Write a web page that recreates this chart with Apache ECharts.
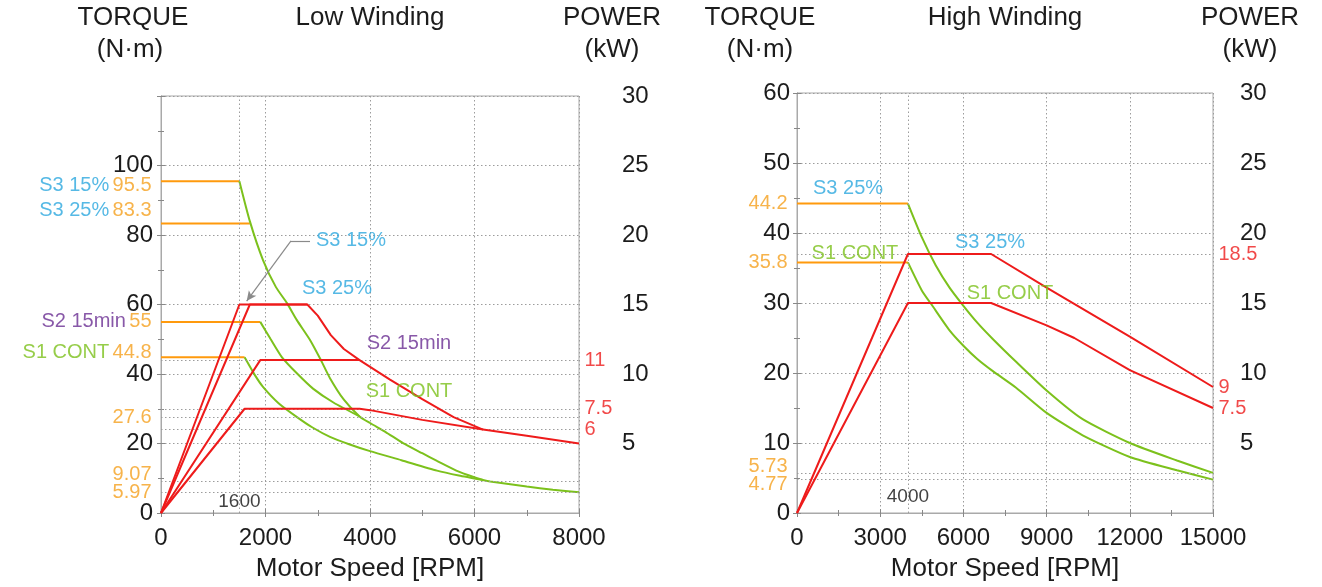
<!DOCTYPE html>
<html><head><meta charset="utf-8">
<script src="https://cdn.jsdelivr.net/npm/echarts@6/dist/echarts.min.js"></script>
<style>html,body{margin:0;padding:0;background:#fff}#c{width:1322px;height:587px}</style>
</head><body><div id="c"></div>
<script>
// ================= DATA =================
// ---- Low Winding (x: rpm, torque: N·m, power: kW) ----
const lowXTicks = [0, 2000, 4000, 6000, 8000];
const lowTorqueTicks = [0, 20, 40, 60, 80, 100];
const lowPowerTicks = [5, 10, 15, 20, 25, 30];
const lowBaseSpeed = 1500;
const lowBaseSpeedText = '1600';

const lowS3_15_flat = [[0, 95.5], [1500, 95.5]];
const lowS3_25_flat = [[0, 83.3], [1700, 83.3]];
const lowS2_flat = [[0, 55], [1900, 55]];
const lowS1_flat = [[0, 44.8], [1600, 44.8]];

const lowS3_torque = [[1500, 95.5], [1700, 84], [1952, 72.8], [2200, 65], [2411, 60.4], [2600, 55.5], [2852, 49.8], [3050, 44.3], [3234, 38.8], [3500, 32.6], [3800, 27.8], [4000, 25.9], [4300, 23.3], [4632, 20.1], [5000, 17.2], [5282, 15], [5700, 11.9], [6163, 9.5], [6300, 9.07], [7000, 7.6], [7500, 6.7], [8000, 5.97]];
const lowS2_torque = [[1900, 55], [2100, 50], [2316, 44.8], [2600, 40.2], [2909, 35.8], [3300, 31.8], [3800, 27.8]];
const lowS1_torque = [[1600, 44.8], [1800, 39.6], [1952, 36.3], [2250, 31.6], [2603, 27.6], [2900, 24.6], [3234, 21.9], [3600, 19.8], [4000, 17.8], [4600, 15.2], [5282, 12.2], [5700, 10.8], [6163, 9.5]];

const lowS3_15_power = [[0, 0], [1500, 15], [2800, 15], [3000, 14.2], [3250, 12.8], [3500, 11.8], [3800, 11]];
const lowS3_25_power = [[0, 0], [1700, 15], [2800, 15]];
const lowS2_power = [[0, 0], [1900, 11], [3800, 11], [4383, 9.6], [5000, 8.2], [5600, 6.9], [6163, 6.0], [7000, 5.55], [8000, 5.0]];
const lowS1_power = [[0, 0], [1600, 7.5], [3800, 7.5], [4000, 7.4], [5000, 6.7], [6163, 6.0]];

const lowTorqueRefs = [27.6, 9.07, 5.97];
const lowPowerRefs = [11, 7.5, 6];
const lowLeftTags = [['S3 15%', 95.5], ['S3 25%', 83.3], ['S2 15min', 55], ['S1 CONT', 44.8], ['', 27.6], ['', 9.07], ['', 5.97]];
const lowInnerTags = [['S3 15%', 3636, 78.3], ['S3 25%', 3368, 64.7], ['S2 15min', 4746, 48.9], ['S1 CONT', 4746, 35.1]];
const lowPowerTags = [11, 7.5, 6];
const lowArrow = [[2852, 78.3], [2488, 78.3], [1640, 61]];

// ---- High Winding ----
const highXTicks = [0, 3000, 6000, 9000, 12000, 15000];
const highTorqueTicks = [0, 10, 20, 30, 40, 50, 60];
const highPowerTicks = [5, 10, 15, 20, 25, 30];
const highBaseSpeed = 4000;
const highBaseSpeedText = '4000';

const highS3_flat = [[0, 44.2], [4000, 44.2]];
const highS1_flat = [[0, 35.8], [4000, 35.8]];
const highS3_torque = [[4000, 44.2], [4500, 39.4], [5000, 35.4], [5500, 32.2], [6000, 29.6], [6500, 27.2], [7050, 24.9], [7900, 21.6], [9000, 17.5], [10300, 13.4], [12000, 10.0], [13700, 7.5], [15000, 5.73]];
const highS1_torque = [[4000, 35.8], [4500, 31.8], [4900, 29.5], [5500, 26.1], [6000, 23.9], [6500, 22.0], [7050, 20.3], [7900, 17.9], [9000, 14.3], [10300, 11.1], [12000, 8.0], [13700, 6.1], [15000, 4.77]];
const highS3_power = [[0, 0], [4000, 18.5], [7000, 18.5], [9000, 16.1], [12000, 12.6], [15000, 9]];
const highS1_power = [[0, 0], [4000, 15], [7000, 15], [9000, 13.4], [10000, 12.5], [12000, 10.2], [15000, 7.5]];

const highTorqueRefs = [5.73, 4.77];
const highPowerRefs = [18.5];
const highLeftTags = [['', 44.2], ['', 35.8], ['', 5.73], ['', 4.77]];
const highInnerTags = [['S3 25%', 1840, 46.3], ['S1 CONT', 2090, 37.1], ['S3 25%', 6960, 38.6], ['S1 CONT', 7680, 31.3]];
const highPowerTags = [18.5, 9, 7.5];

// ================= STYLE =================
const FONT = "'Liberation Sans', Arial, Helvetica, sans-serif";
const C = {
  orange: '#ff9a0d', orangeText: '#f5a01e', green: '#7cc11c', red: '#ee1b1b',
  blue: '#2ca7df', purple: '#6a2e92', grid: '#9c9c9c', frame: '#a9a9a9', text: '#1c1c1c'
};
const modeColor = { 'S3 15%': C.blue, 'S3 25%': C.blue, 'S2 15min': C.purple, 'S1 CONT': C.green };
const modeClass = { 'S3 15%': 'nb', 'S3 25%': 'nb', 'S2 15min': 'np', 'S1 CONT': 'ng' };
const tagNudge = { '95.5': 4, '83.3': -13, '44.8': -5, '9.07': -7, '5.73': -6, '4.77': 5 };
const TAG = 20;
const AX = 24;
const TITLE = 26;
const rich = {
  nb: { color: C.blue, fontSize: TAG, fontFamily: FONT },
  np: { color: C.purple, fontSize: TAG, fontFamily: FONT },
  ng: { color: C.green, fontSize: TAG, fontFamily: FONT },
  o: { color: C.orangeText, fontSize: TAG, fontFamily: FONT }
};

const grids = [
  { left: 161, top: 96, width: 418, height: 417, show: true, borderColor: C.frame, borderWidth: 1 },
  { left: 797, top: 93, width: 416, height: 420, show: true, borderColor: C.frame, borderWidth: 1 }
];

function xAxis(gi, max, interval, pos, shown) {
  const bottom = pos === 'bottom';
  return {
    type: 'value', gridIndex: gi, min: 0, max, interval, position: pos,
    axisLine: { show: true, lineStyle: { color: C.frame } },
    axisTick: { show: true, inside: true, length: 4, lineStyle: { color: '#888' } },
    minorTick: { show: true, splitNumber: 2, length: 3, lineStyle: { color: '#888' } },
    axisLabel: { show: bottom, margin: 13, fontSize: AX, color: C.text, fontFamily: FONT,
      formatter: v => shown.indexOf(v) >= 0 ? String(v) : '' },
    splitLine: { show: bottom, lineStyle: { type: [1.5, 2.5], color: C.grid, width: 1 } }
  };
}
function yAxis(gi, max, interval, pos, shown, margin) {
  const left = pos === 'left';
  return {
    type: 'value', gridIndex: gi, min: 0, max, interval, position: pos,
    axisLine: { show: true, lineStyle: { color: C.frame } },
    axisTick: { show: true, inside: true, length: 4, lineStyle: { color: '#888' } },
    minorTick: { show: true, splitNumber: 2, length: 3, lineStyle: { color: '#888' } },
    axisLabel: { margin, fontSize: AX, color: C.text, fontFamily: FONT,
      formatter: v => shown.indexOf(v) >= 0 ? String(v) : '' },
    splitLine: { show: left, lineStyle: { type: [1.5, 2.5], color: C.grid, width: 1 } }
  };
}

function line(data, color, xi, yi, z, smooth) {
  return { type: 'line', data, xAxisIndex: xi, yAxisIndex: yi, symbol: 'none', showSymbol: false,
    lineStyle: { color, width: 2 }, itemStyle: { color }, smooth: smooth ? 0.2 : false,
    silent: true, animation: false, z };
}
function refLines(series, yVals, vertical) {
  const data = yVals.map(v => ({ yAxis: v }));
  if (vertical !== undefined) data.push({ xAxis: vertical });
  series.markLine = { silent: true, symbol: ['none', 'none'], animation: false,
    label: { show: false }, lineStyle: { type: [1.5, 2.5], color: C.grid, width: 1 }, data };
  return series;
}
function textSeries(xi, yi, items, z) {
  return { type: 'scatter', xAxisIndex: xi, yAxisIndex: yi, symbolSize: 1, clip: false,
    itemStyle: { color: 'rgba(0,0,0,0)' }, silent: true, animation: false, z: z || 20, data: items };
}
function leftTagItems(tags) {
  return tags.map(([name, v]) => ({
    value: [0, v],
    label: { show: true, position: 'left', distance: 9, offset: [0, tagNudge[String(v)] || 0],
      formatter: name ? `{${modeClass[name]}|${name}} {o|${v}}` : `{o|${v}}`, rich }
  }));
}
function innerTagItems(tags) {
  return tags.map(([name, x, y]) => ({
    value: [x, y],
    label: { show: true, position: 'inside', formatter: name, color: modeColor[name], fontSize: TAG, fontFamily: FONT }
  }));
}
function powerTagItems(tags, xmax) {
  return tags.map(v => ({
    value: [xmax, v],
    label: { show: true, position: 'right', distance: 5, formatter: String(v), color: C.red, fontSize: TAG, fontFamily: FONT }
  }));
}
function baseTag(x, y, text) {
  return [{ value: [x, y], label: { show: true, position: 'inside', formatter: text, color: '#111', fontSize: 19, fontFamily: FONT } }];
}

// ---------- series ----------
const series = [];
// Low winding: xAxis 0 (bottom), 1 (top); yAxis 0 torque, 1 power
series.push(refLines(line(lowS3_15_flat, C.orange, 0, 0, 3), lowTorqueRefs, lowBaseSpeed));
series.push(line(lowS3_25_flat, C.orange, 0, 0, 3));
series.push(line(lowS2_flat, C.orange, 0, 0, 3));
series.push(line(lowS1_flat, C.orange, 0, 0, 3));
series.push(line(lowS3_torque, C.green, 0, 0, 4, true));
series.push(line(lowS2_torque, C.green, 0, 0, 4, true));
series.push(line(lowS1_torque, C.green, 0, 0, 4, true));
series.push(refLines(line(lowS3_15_power, C.red, 0, 1, 5), lowPowerRefs));
series.push(line(lowS3_25_power, C.red, 0, 1, 5));
series.push(line(lowS2_power, C.red, 0, 1, 5));
series.push(line(lowS1_power, C.red, 0, 1, 5));
// arrow to S3 15% peak
series.push({ type: 'line', xAxisIndex: 0, yAxisIndex: 0, data: [], silent: true, animation: false, z: 6,
  markLine: { silent: true, animation: false, symbol: ['none', 'none'], label: { show: false },
    lineStyle: { type: 'solid', color: '#8a8a8a', width: 1.2 },
    data: [
      [{ coord: lowArrow[0], symbol: 'none' }, { coord: lowArrow[1], symbol: 'none' }],
      [{ coord: lowArrow[1], symbol: 'none' }, { coord: lowArrow[2], symbol: 'arrow', symbolSize: [7, 10] }]
    ] } });
series.push(textSeries(0, 0, leftTagItems(lowLeftTags)));
series.push(textSeries(0, 0, innerTagItems(lowInnerTags)));
series.push(textSeries(0, 1, powerTagItems(lowPowerTags, 8000)));
series.push(textSeries(0, 0, baseTag(lowBaseSpeed, 3.2, lowBaseSpeedText)));

// High winding: xAxis 2 (bottom), 3 (top); yAxis 2 torque, 3 power
series.push(refLines(line(highS3_flat, C.orange, 2, 2, 3), highTorqueRefs, highBaseSpeed));
series.push(line(highS1_flat, C.orange, 2, 2, 3));
series.push(line(highS3_torque, C.green, 2, 2, 4, true));
series.push(line(highS1_torque, C.green, 2, 2, 4, true));
series.push(refLines(line(highS3_power, C.red, 2, 3, 5), highPowerRefs));
series.push(line(highS1_power, C.red, 2, 3, 5));
series.push(textSeries(2, 2, leftTagItems(highLeftTags)));
series.push(textSeries(2, 2, innerTagItems(highInnerTags)));
series.push(textSeries(2, 3, powerTagItems(highPowerTags, 15000)));
series.push(textSeries(2, 2, baseTag(highBaseSpeed, 2.3, highBaseSpeedText)));

function title(text, x, y) {
  return { type: 'text', x, y, silent: true,
    style: { text, fill: C.text, font: `${TITLE}px ${FONT}`, textAlign: 'center', textVerticalAlign: 'middle', align: 'center', verticalAlign: 'middle' } };
}

const option = {
  backgroundColor: '#fff',
  animation: false,
  grid: grids,
  xAxis: [
    xAxis(0, 8000, 2000, 'bottom', lowXTicks), xAxis(0, 8000, 2000, 'top', lowXTicks),
    xAxis(1, 15000, 3000, 'bottom', highXTicks), xAxis(1, 15000, 3000, 'top', highXTicks)
  ],
  yAxis: [
    yAxis(0, 120, 20, 'left', lowTorqueTicks, 8),
    yAxis(0, 30, 5, 'right', lowPowerTicks, 43),
    yAxis(1, 60, 10, 'left', highTorqueTicks, 7),
    yAxis(1, 30, 5, 'right', highPowerTicks, 27)
  ],
  series,
  graphic: [
    title('TORQUE', 133, 18), title('(N·m)', 130, 50), title('Low Winding', 370, 18),
    title('POWER', 612, 18), title('(kW)', 612, 50), title('Motor Speed [RPM]', 370, 569),
    title('TORQUE', 760, 18), title('(N·m)', 760, 50), title('High Winding', 1005, 18),
    title('POWER', 1250, 18), title('(kW)', 1250, 50), title('Motor Speed [RPM]', 1005, 569)
  ]
};
const chart = echarts.init(document.getElementById('c'), null, { renderer: 'canvas' });
chart.setOption(option);
</script></body></html>
